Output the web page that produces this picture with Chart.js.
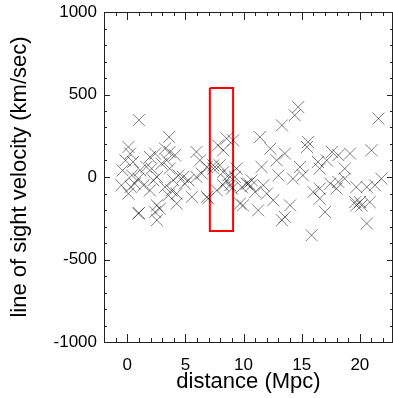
<!DOCTYPE html>
<html lang="en">
<head>
  <meta charset="UTF-8">
  <title>line of sight velocity vs distance</title>
  <style>
    html, body {
      margin: 0;
      padding: 0;
      background: #ffffff;
    }

    #wrap {
      width: 393px;
      height: 398px;
    }
  </style>
</head>
<body>
  <div id="wrap">
    <canvas id="velChart" width="393" height="398"></canvas>
  </div>

  <script src="https://cdn.jsdelivr.net/npm/chart.js"></script>
  <script>
    // galaxies: distance (Mpc) and line of sight velocity (km/sec)
    const distance = [
      1.0, 0.1, 0.25, -0.15, 0.5, 1.1, 0.4, 0.95, 0.65, 1.4, 0.1, 0.95, 1.0,
      1.65, 1.95, 2.4, 2.1, 2.55, 2.25, 1.95, 2.55, 2.4, 2.55, 2.8,
      3.6, 3.25, 3.65, 4.1, 3.4, 2.95, 3.65, 3.25, 3.95, 4.4, 3.8, 4.25, 3.55, 4.25,
      4.8, 5.25, 4.95, 5.55, 5.95, 6.25, 5.95, 6.4, 6.85, 6.85,
      7.8, 8.25, 7.7, 7.4, 8.25, 9.1, 8.55, 7.4, 7.95, 8.7, 9.25, 6.95, 8.25, 9.0, 9.7, 8.55, 8.85,
      14.7, 14.4, 13.3, 11.4, 12.3, 21.6, 15.55, 15.45, 13.55, 12.85, 11.55, 14.85,
      16.4, 17.6, 18.15, 19.15, 21.0, 17.15, 16.55, 18.7, 9.4, 13.0, 14.25, 15.1,
      10.25, 9.85, 10.7, 11.7, 16.0, 16.55, 17.45, 18.15, 18.0, 18.7, 19.7, 20.6, 21.3, 21.85,
      11.0, 12.0, 12.55, 9.95, 11.25, 14.0, 13.55, 13.3, 17.0, 16.55,
      19.6, 20.0, 20.15, 19.7, 20.85, 20.6, 15.85,
      10.4, 10.6, -0.5, -0.4, 0.3
    ];
    const velocity = [
      345, 182, 142, 101, 91, 41, 10, -10, -40, -50, -101, -222, -218,
      61, 121, 142, 51, 0, -20, -81, -172, -212, -262, -192,
      242, 172, 152, 132, 101, 81, 51, -61, -20, 10, -81, -101, -111, -161,
      0, -20, -40, -121, 152, 101, 0, 21, 61, -121,
      192, 162, -81, 51, 30, 222, 233, 71, 71, 10, 0, -131, -50, -70, -161, -20, -50,
      424, 374, 313, 242, 172, 354, 212, 182, 142, 101, 61, 61,
      91, 152, 132, 142, 162, 101, 51, 51, 51, 10, -10, 10,
      -40, -61, -20, -50, -91, -70, -40, -30, -70, -10, -61, -61, -50, -10,
      -91, -101, -141, -172, -202, -172, -242, -262, -212, -131,
      -152, -152, -172, -172, -152, -282, -353,
      -40, -55, -50, 40, -60
    ];

    // selected strip (red box)
    const boxDistance = [7.1, 9.1, 9.1, 7.1, 7.1];
    const boxVelocity = [540, 540, -327, -327, 540];

    const xTickLabels = [0, 5, 10, 15, 20];
    const yTickLabels = [-1000, -500, 0, 500, 1000];

    const xMin = -2, xMax = 22.85;
    const yMin = -1000, yMax = 1000;

    const points = distance.map((d, i) => ({ x: d, y: velocity[i] }));
    const box = boxDistance.map((d, i) => ({ x: d, y: boxVelocity[i] }));

    const fontFamily = 'Liberation Sans, Arial, sans-serif';

    // IDL style frame: box on all four sides, ticks pointing inwards
    const framePlugin = {
      id: 'frame',
      afterDraw(chart) {
        const { ctx, chartArea: a, scales: { x, y } } = chart;
        ctx.save();
        ctx.strokeStyle = '#222';
        ctx.lineWidth = 1;
        ctx.beginPath();
        ctx.rect(Math.round(a.left) + 0.5, Math.round(a.top) + 0.5,
          Math.round(a.right - a.left) - 1, Math.round(a.bottom - a.top));
        ctx.stroke();

        ctx.beginPath();
        for (let v = -2; v <= 22; v++) {
          const px = Math.round(x.getPixelForValue(v)) + 0.5;
          const len = v % 5 === 0 ? 8 : 4;
          ctx.moveTo(px, a.bottom);
          ctx.lineTo(px, a.bottom - len);
          ctx.moveTo(px, a.top);
          ctx.lineTo(px, a.top + len);
        }
        for (let v = -1000; v <= 1000; v += 100) {
          const py = Math.round(y.getPixelForValue(v)) + 0.5;
          const len = v % 500 === 0 ? 6 : 3;
          ctx.moveTo(a.left, py);
          ctx.lineTo(a.left + len, py);
          ctx.moveTo(a.right, py);
          ctx.lineTo(a.right - len, py);
        }
        ctx.stroke();
        ctx.restore();
      }
    };

    const ctx = document.getElementById('velChart').getContext('2d');
    new Chart(ctx, {
      type: 'scatter',
      data: {
        datasets: [{
          label: 'galaxies',
          data: points,
          pointStyle: 'crossRot',
          pointRadius: 8.5,
          pointBorderWidth: 1,
          borderColor: 'rgba(0, 0, 0, 0.5)',
          backgroundColor: 'rgba(0, 0, 0, 0.5)'
        }, {
          label: 'strip',
          data: box,
          showLine: true,
          pointRadius: 0,
          borderColor: '#ff0000',
          borderWidth: 2,
          fill: false
        }]
      },
      options: {
        responsive: false,
        animation: false,
        layout: {
          autoPadding: false,
          padding: { top: 12, right: 0, left: 0, bottom: 0 }
        },
        plugins: {
          legend: { display: false },
          tooltip: { enabled: false }
        },
        scales: {
          x: {
            type: 'linear',
            min: xMin,
            max: xMax,
            afterBuildTicks: (s) => { s.ticks = xTickLabels.map(v => ({ value: v })); },
            afterFit: (s) => {
              s.height = 56;
              s.paddingLeft = 0;
              s.paddingRight = 0;
            },
            grid: { display: false, drawTicks: false },
            border: { display: false },
            ticks: {
              color: '#000',
              padding: 13,
              maxRotation: 0,
              font: { family: fontFamily, size: 17 }
            },
            title: {
              display: true,
              text: 'distance (Mpc)',
              color: '#000',
              padding: { top: 0, bottom: 3 },
              font: { family: fontFamily, size: 22 }
            }
          },
          y: {
            type: 'linear',
            min: yMin,
            max: yMax,
            afterBuildTicks: (s) => { s.ticks = yTickLabels.map(v => ({ value: v })); },
            afterFit: (s) => {
              s.width = 104;
              s.paddingTop = 0;
              s.paddingBottom = 0;
            },
            grid: { display: false, drawTicks: false },
            border: { display: false },
            ticks: {
              color: '#000',
              padding: 7,
              callback: (v) => String(v),
              font: { family: fontFamily, size: 17 }
            },
            title: {
              display: true,
              text: 'line of sight velocity (km/sec)',
              color: '#000',
              padding: { top: 7, bottom: 0 },
              font: { family: fontFamily, size: 22 }
            }
          }
        }
      },
      plugins: [framePlugin]
    });
  </script>
</body>
</html>
